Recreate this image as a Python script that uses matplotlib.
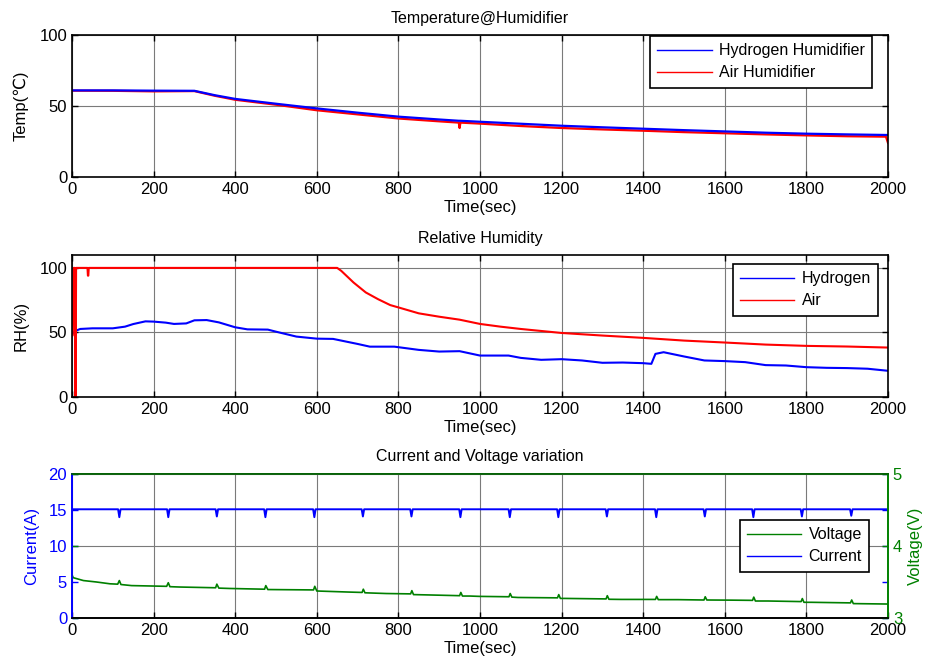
import matplotlib
matplotlib.use("Agg")
import matplotlib.pyplot as plt
from matplotlib.lines import Line2D

plt.rcParams['font.family'] = ['Liberation Sans', 'DejaVu Sans']

# ---------------- data ----------------
# Temperature @ humidifier
temp_t = [0, 100, 200, 300, 350, 400, 500, 600, 700, 800, 900, 948, 950, 952,
          1000, 1100, 1200, 1300, 1400, 1500, 1600, 1700, 1800, 1900, 1995, 2000]
h2_temp = [61.0, 61.0, 60.8, 60.7, 57.6, 55.0, 51.6, 48.3, 45.3, 42.5, 40.5, 39.6, 39.6, 39.6,
           38.9, 37.5, 36.1, 35.0, 34.0, 33.0, 32.1, 31.2, 30.5, 30.0, 29.6, 29.6]
air_temp = [60.8, 60.7, 60.3, 60.5, 57.2, 54.4, 50.9, 47.0, 44.1, 41.2, 39.2, 38.3, 34.5, 38.3,
            37.6, 35.9, 34.5, 33.5, 32.6, 31.6, 30.8, 30.0, 29.3, 28.7, 28.4, 24.0]

# Relative humidity
rh_h2_t = [0, 10, 20, 50, 100, 130, 150, 180, 200, 230, 250, 280, 300, 330, 360, 400, 430, 480,
           500, 550, 600, 640, 700, 730, 790, 850, 900, 950, 1000, 1050, 1070, 1100, 1150, 1200,
           1250, 1300, 1350, 1400, 1420, 1430, 1450, 1500, 1550, 1600, 1650, 1700, 1750, 1800,
           1850, 1900, 1950, 2000]
rh_h2 = [49.0, 51.4, 52.7, 53.2, 53.2, 54.5, 56.5, 58.6, 58.4, 57.6, 56.6, 57.0, 59.4, 59.6, 57.8,
         54.0, 52.4, 52.2, 50.6, 46.8, 45.2, 45.0, 41.1, 39.0, 39.0, 36.5, 35.2, 35.5, 32.1, 32.1,
         32.1, 30.3, 28.8, 29.3, 28.3, 26.5, 26.7, 26.2, 25.7, 33.4, 34.7, 31.4, 28.3, 27.8, 27.0,
         24.7, 24.4, 23.1, 22.6, 22.4, 21.9, 20.3]
rh_air_t = [0, 2, 4, 7, 8, 9, 10, 38, 39, 40, 41, 640, 650, 660, 690, 720, 750, 780, 800, 850, 900,
            950, 1000, 1050, 1100, 1200, 1300, 1400, 1500, 1600, 1700, 1800, 1900, 2000]
rh_air = [47.0, 48.0, 100.0, 100.0, 0.0, 0.0, 100.0, 100.0, 94.0, 94.0, 100.0, 100.0, 100.0, 97.7,
          88.7, 81.0, 75.8, 71.2, 69.4, 64.8, 62.2, 59.9, 56.6, 54.5, 52.7, 49.6, 47.6, 45.8, 43.7,
          42.2, 40.6, 39.6, 39.1, 38.3]

# Voltage (V) and current (A)
volt_t = [0, 3, 28, 60, 93, 112, 116, 120, 146, 232, 236, 240, 265, 352, 355, 360, 387, 472, 475,
          480, 485, 592, 595, 600, 680, 711, 714, 718, 770, 830, 833, 837, 876, 950, 953, 957, 975,
          1000, 1071, 1074, 1078, 1093, 1190, 1193, 1197, 1207, 1309, 1312, 1316, 1346, 1430, 1433,
          1437, 1485, 1549, 1552, 1556, 1616, 1668, 1671, 1675, 1706, 1787, 1790, 1794, 1812, 1908,
          1911, 1915, 1943, 2000]
volt = [3.60, 3.56, 3.52, 3.50, 3.475, 3.47, 3.52, 3.465, 3.45, 3.44, 3.49, 3.435, 3.43, 3.42, 3.47,
        3.415, 3.41, 3.40, 3.45, 3.395, 3.395, 3.39, 3.44, 3.375, 3.36, 3.355, 3.40, 3.35, 3.34,
        3.335, 3.38, 3.325, 3.32, 3.31, 3.355, 3.305, 3.305, 3.30, 3.295, 3.34, 3.29, 3.285, 3.28,
        3.325, 3.272, 3.272, 3.265, 3.31, 3.26, 3.258, 3.258, 3.30, 3.255, 3.255, 3.25, 3.295, 3.25,
        3.248, 3.245, 3.29, 3.236, 3.236, 3.228, 3.27, 3.218, 3.218, 3.21, 3.25, 3.20, 3.198, 3.194]
curr_t = [0, 113, 116, 119, 233, 236, 239, 352, 355, 358, 471, 474, 477, 591, 594, 597, 710, 713,
          716, 829, 832, 835, 949, 952, 955, 1070, 1073, 1076, 1189, 1192, 1195, 1308, 1311, 1314,
          1429, 1432, 1435, 1548, 1551, 1554, 1667, 1670, 1673, 1786, 1789, 1792, 1907, 1910, 1913,
          2000]
curr = [15.1, 15.1, 14.0, 15.1, 15.1, 14.0, 15.1, 15.1, 14.1, 15.1, 15.1, 14.0, 15.1, 15.1, 14.0,
        15.1, 15.1, 14.1, 15.1, 15.1, 14.1, 15.1, 15.1, 14.0, 15.1, 15.1, 14.0, 15.1, 15.1, 14.0,
        15.1, 15.1, 14.1, 15.1, 15.1, 14.0, 15.1, 15.1, 14.1, 15.1, 15.1, 14.0, 15.1, 15.1, 14.1,
        15.1, 15.1, 14.2, 15.1, 15.1]

x_ticks = [0, 200, 400, 600, 800, 1000, 1200, 1400, 1600, 1800, 2000]

BLUE = '#0000ff'
RED = '#ff0000'
GREEN = '#008000'
GRID = '#7a7a7a'

W, H = 930, 666
fig = plt.figure(figsize=(W / 100, H / 100), dpi=100)


def rect(left, top, right, bottom):
    return [left / W, 1 - bottom / H, (right - left) / W, (bottom - top) / H]


TICK_FS = 12
LAB_FS = 12
TITLE_FS = 11.5
LEG_FS = 11.5


def style_axes(ax, yticks, ylim):
    ax.set_xlim(0, 2000)
    ax.set_ylim(*ylim)
    ax.set_xticks(x_ticks)
    ax.set_yticks(yticks)
    ax.tick_params(direction='in', length=4, width=1, top=True, right=True, labelsize=TICK_FS)
    for s in ax.spines.values():
        s.set_linewidth(1.2)
    ax.grid(True, color=GRID, linewidth=0.8)
    ax.set_axisbelow(True)
    ax.set_xlabel('Time(sec)', fontsize=LAB_FS, labelpad=2)


def add_legend(ax, handles, labels, right_px, top_px):
    leg = ax.legend(handles, labels, loc='upper right',
                    bbox_to_anchor=(right_px / W, 1 - top_px / H),
                    bbox_transform=fig.transFigure, borderaxespad=0,
                    fontsize=LEG_FS, handlelength=3.4, handletextpad=0.45,
                    borderpad=0.45, labelspacing=0.45, fancybox=False,
                    framealpha=1, edgecolor='black')
    leg.get_frame().set_linewidth(1.2)
    return leg


# ---------- Plot 1: temperature ----------
ax1 = fig.add_axes(rect(72, 35, 888, 177))
ax1.plot(temp_t, air_temp, color=RED, linewidth=1.6)
ax1.plot(temp_t, h2_temp, color=BLUE, linewidth=1.6)
style_axes(ax1, [0, 50, 100], (0, 100))
ax1.set_title('Temperature@Humidifier', fontsize=TITLE_FS, pad=9)
ax1.set_ylabel('Temp(℃)', fontsize=LAB_FS, labelpad=8)
add_legend(ax1,
           [Line2D([], [], color=BLUE, lw=1.0), Line2D([], [], color=RED, lw=1.0)],
           ['Hydrogen Humidifier', 'Air Humidifier'], 872, 36)

# ---------- Plot 2: relative humidity ----------
ax2 = fig.add_axes(rect(72, 255, 888, 397))
ax2.plot(rh_h2_t, rh_h2, color=BLUE, linewidth=1.5)
ax2.plot(rh_air_t, rh_air, color=RED, linewidth=1.5)
style_axes(ax2, [0, 50, 100], (0, 110))
ax2.set_title('Relative Humidity', fontsize=TITLE_FS, pad=9)
ax2.set_ylabel('RH(%)', fontsize=LAB_FS, labelpad=8)
add_legend(ax2,
           [Line2D([], [], color=BLUE, lw=1.0), Line2D([], [], color=RED, lw=1.0)],
           ['Hydrogen', 'Air'], 878, 264)

# ---------- Plot 3: current and voltage ----------
ax3 = fig.add_axes(rect(72, 474, 888, 618))
ax3b = ax3.twinx()
ax3.plot(curr_t, curr, color=BLUE, linewidth=1.4)
ax3b.plot(volt_t, volt, color=GREEN, linewidth=1.2)

ax3.set_xlim(0, 2000)
ax3.set_ylim(0, 20)
ax3.set_xticks(x_ticks)
ax3.set_yticks([0, 5, 10, 15, 20])
ax3.tick_params(axis='x', direction='in', length=4, width=1, labelsize=TICK_FS)
ax3.tick_params(axis='y', direction='in', length=4, width=1, right=True,
                colors=BLUE, labelsize=TICK_FS)
ax3.xaxis.grid(True, color=GRID, linewidth=0.8)
ax3.set_axisbelow(True)
ax3.set_xlabel('Time(sec)', fontsize=LAB_FS, labelpad=2)
ax3.set_ylabel('Current(A)', fontsize=LAB_FS, color=BLUE, labelpad=7)
ax3.set_title('Current and Voltage variation', fontsize=TITLE_FS, pad=9)

ax3b.set_ylim(3, 5)
ax3b.set_yticks([3, 4, 5])
ax3b.tick_params(axis='y', direction='in', length=4, width=1, left=True,
                 colors=GREEN, labelsize=TICK_FS)
ax3b.yaxis.grid(True, color=GRID, linewidth=0.8)
ax3b.set_ylabel('Voltage(V)', fontsize=LAB_FS, color=GREEN, labelpad=4)

for a in (ax3, ax3b):
    for s in a.spines.values():
        s.set_linewidth(1.2)
    a.spines['left'].set_color(BLUE)
    a.spines['right'].set_color(GREEN)
    a.spines['top'].set_color('#006000')

add_legend(ax3b,
           [Line2D([], [], color=GREEN, lw=1.0), Line2D([], [], color=BLUE, lw=1.0)],
           ['Voltage', 'Current'], 869, 520)

fig.savefig('out.png', dpi=100)
